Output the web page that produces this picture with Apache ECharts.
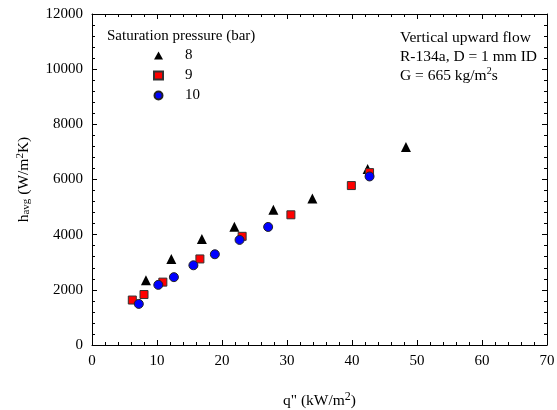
<!DOCTYPE html>
<html><head><meta charset="utf-8">
<script src="https://cdn.jsdelivr.net/npm/echarts@6/dist/echarts.min.js"></script>
<style>html,body{margin:0;padding:0;background:#fff}#c{width:557px;height:410px}</style>
</head><body><div id="c"></div>
<script>
const seriesNames = ['8', '9', '10'];
const q8 = [8.3, 12.2, 16.9, 21.9, 27.9, 33.9, 42.4, 48.3];
const h8 = [2350, 3120, 3840, 4290, 4900, 5310, 6380, 7180];
const q9 = [6.2, 8.0, 10.9, 16.6, 23.1, 30.6, 39.9, 42.7];
const h9 = [1630, 1830, 2280, 3120, 3940, 4720, 5780, 6250];
const q10 = [7.2, 10.2, 12.6, 15.6, 18.9, 22.7, 27.1, 42.7];
const h10 = [1490, 2180, 2460, 2890, 3290, 3810, 4280, 6110];
const xTicks = [0, 10, 20, 30, 40, 50, 60, 70];
const yTicks = [0, 2000, 4000, 6000, 8000, 10000, 12000];

const font = 'Liberation Serif';
const pair = (xs, ys) => xs.map((x, i) => [x, ys[i]]);
const chart = echarts.init(document.getElementById('c'));
const axisCommon = () => ({
  axisLine: {show: true, onZero: false, lineStyle: {color: '#000', width: 1}},
  axisTick: {show: true, inside: true, length: 5, lineStyle: {color: '#000'}},
  minorTick: {show: true, splitNumber: 5, length: 3, lineStyle: {color: '#000'}},
  splitLine: {show: false},
});
chart.setOption({
  animation: false,
  grid: {left: 92, right: 10, top: 14, bottom: 65, outerBoundsMode: 'none', containLabel: false},
  xAxis: [
    Object.assign(axisCommon(), {
      type: 'value', min: xTicks[0], max: xTicks[xTicks.length - 1], interval: 10, position: 'bottom',
      axisLabel: {color: '#000', fontFamily: font, fontSize: 15, margin: 9, formatter: v => String(v)},
      name: 'q" (kW/m{s|2})', nameLocation: 'middle', nameGap: 46,
      nameTextStyle: {color: '#000', fontFamily: font, fontSize: 15.5,
        rich: {s: {fontFamily: font, fontSize: 12, verticalAlign: 'top', padding: [0,0,7,0]}}}
    }),
    Object.assign(axisCommon(), {
      type: 'value', min: 0, max: 70, interval: 10, position: 'top', axisLabel: {show: false}
    })
  ],
  yAxis: [
    Object.assign(axisCommon(), {
      type: 'value', min: yTicks[0], max: yTicks[yTicks.length - 1], interval: 2000, position: 'left',
      axisLabel: {color: '#000', fontFamily: font, fontSize: 15, margin: 9, formatter: v => String(v)},
      name: 'h{b|avg} (W/m{s|2}K)', nameLocation: 'middle', nameGap: 60, nameRotate: 90,
      nameTextStyle: {color: '#000', fontFamily: font, fontSize: 15.5,
        rich: {b: {fontFamily: font, fontSize: 11, verticalAlign: 'bottom', padding: [6,0,0,0]},
               s: {fontFamily: font, fontSize: 11, verticalAlign: 'top', padding: [0,0,6,0]}}}
    }),
    Object.assign(axisCommon(), {
      type: 'value', min: 0, max: 12000, interval: 2000, position: 'right', axisLabel: {show: false}
    })
  ],
  legend: {
    orient: 'vertical', left: 153, top: 48, padding: 0, itemWidth: 9, itemHeight: 8, itemGap: 5,
    textStyle: {color: '#000', fontFamily: font, fontSize: 15, lineHeight: 15, padding: [0, 0, 0, 17]},
    data: seriesNames
  },
  graphic: [
    {type: 'text', left: 107, top: 29, style: {text: 'Saturation pressure (bar)', font: '15px "Liberation Serif"', fill: '#000'}},
    {type: 'text', left: 400, top: 28.5, style: {
      text: 'Vertical upward flow\nR-134a, D = 1 mm ID\nG = 665 kg/m{s|2}s',
      font: '15.5px "Liberation Serif"', fill: '#000', lineHeight: 19,
      rich: {s: {font: '10px "Liberation Serif"', verticalAlign: 'top', padding: [0,0,6,0]}}}}
  ],
  series: [
    {name: seriesNames[0], type: 'scatter', symbol: 'triangle', symbolSize: 10, z: 3,
     itemStyle: {color: '#000', opacity: 1}, data: pair(q8, h8)},
    {name: seriesNames[1], type: 'scatter', symbol: 'rect', symbolSize: 8, z: 4,
     itemStyle: {color: '#ff0000', borderColor: '#333', borderWidth: 1, opacity: 1}, data: pair(q9, h9)},
    {name: seriesNames[2], type: 'scatter', symbol: 'circle', symbolSize: 9, z: 5,
     itemStyle: {color: '#0000ff', borderColor: '#222', borderWidth: 1, opacity: 1}, data: pair(q10, h10)}
  ]
});
</script></body></html>
